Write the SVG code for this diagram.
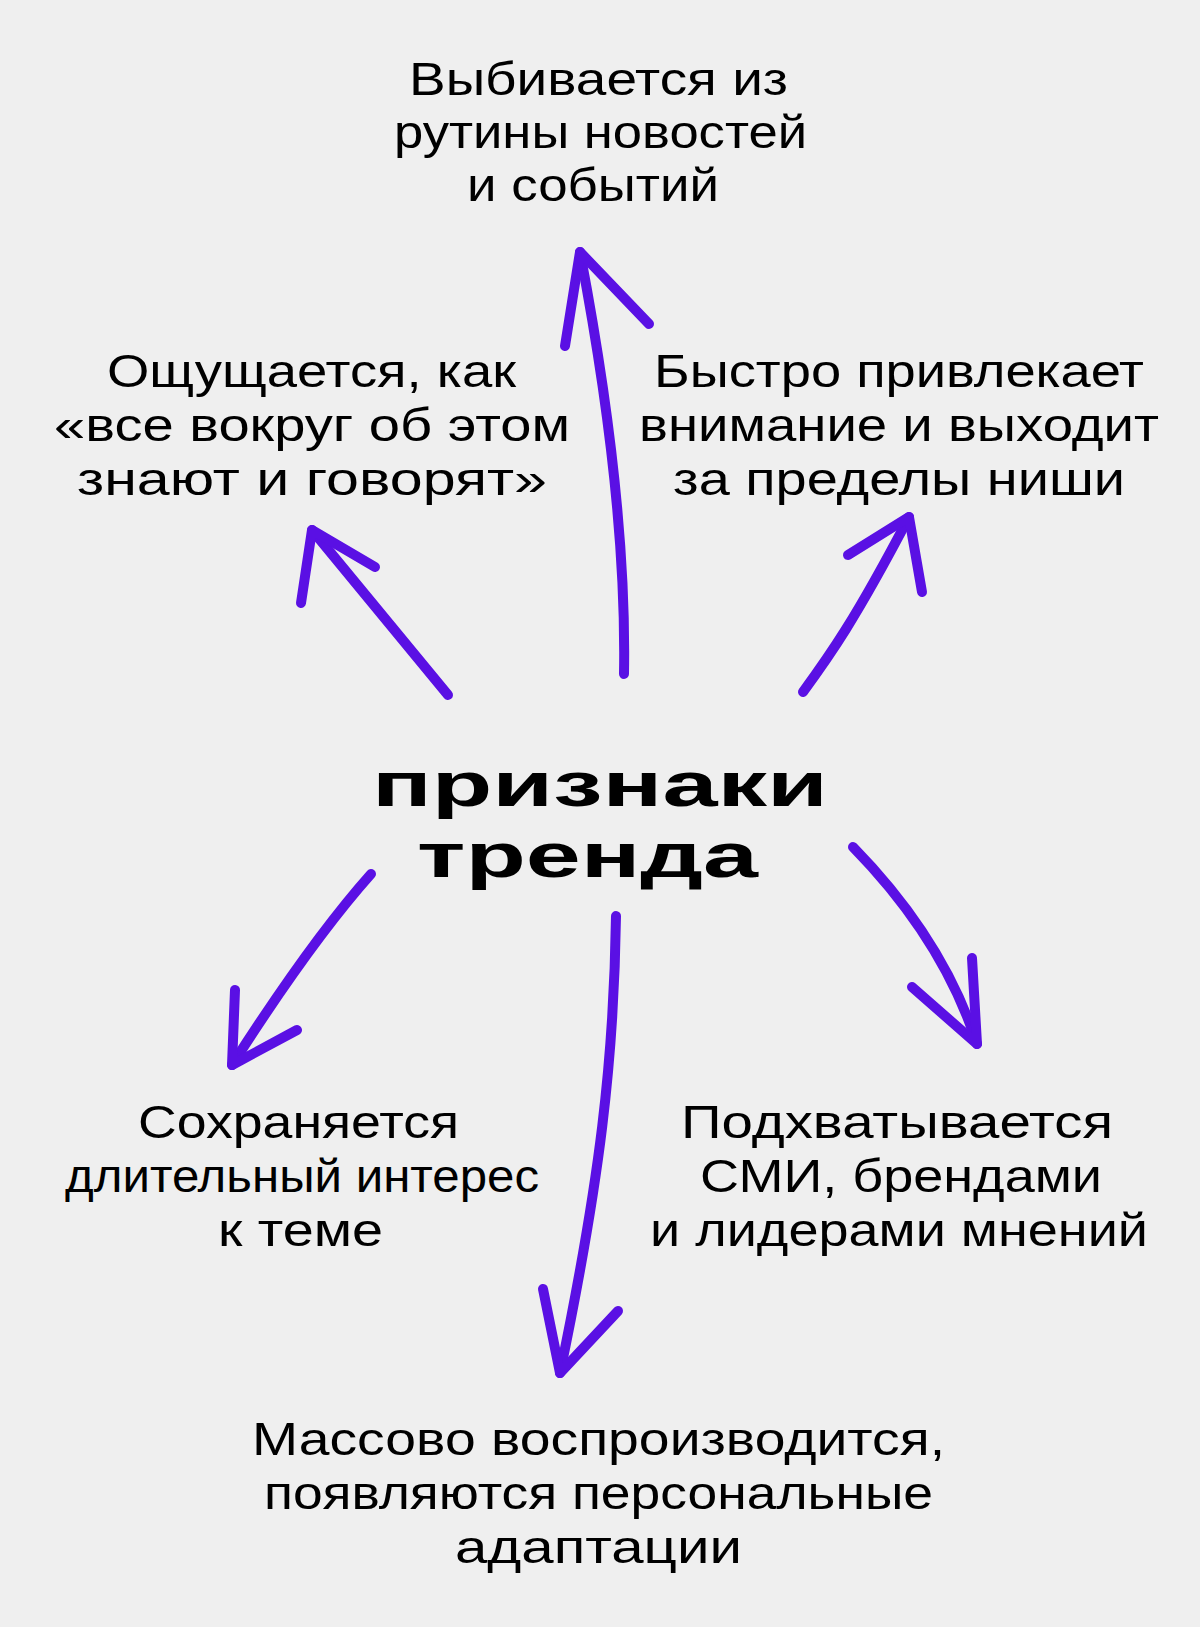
<svg xmlns="http://www.w3.org/2000/svg" width="1200" height="1627" viewBox="0 0 1200 1627">
<defs>
<style>
.hand{font-family:"Liberation Sans",Arial,sans-serif;font-size:46px;font-weight:400;fill:#000}
.title{font-family:"Liberation Sans",Arial,sans-serif;font-size:63px;font-weight:700;fill:#000}
.arr{fill:none;stroke:#5a10e4;stroke-width:10;stroke-linecap:round;stroke-linejoin:round}
</style>
</defs>
<rect x="0" y="0" width="1200" height="1627" fill="#efefef"/>
<g id="center">
<text class="title" x="372" y="806" textLength="456" lengthAdjust="spacingAndGlyphs">признаки</text>
<text class="title" x="417" y="877" textLength="341" lengthAdjust="spacingAndGlyphs">тренда</text>
</g>
<g id="node-top">
<text class="hand" x="409" y="95" textLength="379" lengthAdjust="spacingAndGlyphs">Выбивается из</text>
<text class="hand" x="394" y="148" textLength="413" lengthAdjust="spacingAndGlyphs">рутины новостей</text>
<text class="hand" x="467" y="201" textLength="252" lengthAdjust="spacingAndGlyphs">и событий</text>
</g>
<g id="node-left">
<text class="hand" x="107" y="387" textLength="409" lengthAdjust="spacingAndGlyphs">Ощущается, как</text>
<text class="hand" x="54" y="441" textLength="516" lengthAdjust="spacingAndGlyphs">«все вокруг об этом</text>
<text class="hand" x="77" y="495" textLength="470" lengthAdjust="spacingAndGlyphs">знают и говорят»</text>
</g>
<g id="node-right">
<text class="hand" x="654" y="387" textLength="490" lengthAdjust="spacingAndGlyphs">Быстро привлекает</text>
<text class="hand" x="639" y="441" textLength="520" lengthAdjust="spacingAndGlyphs">внимание и выходит</text>
<text class="hand" x="673" y="495" textLength="452" lengthAdjust="spacingAndGlyphs">за пределы ниши</text>
</g>
<g id="node-lower-left">
<text class="hand" x="138" y="1138" textLength="321" lengthAdjust="spacingAndGlyphs">Сохраняется</text>
<text class="hand" x="65" y="1192" textLength="474" lengthAdjust="spacingAndGlyphs">длительный интерес</text>
<text class="hand" x="218" y="1246" textLength="165" lengthAdjust="spacingAndGlyphs">к теме</text>
</g>
<g id="node-lower-right">
<text class="hand" x="681" y="1138" textLength="432" lengthAdjust="spacingAndGlyphs">Подхватывается</text>
<text class="hand" x="700" y="1192" textLength="402" lengthAdjust="spacingAndGlyphs">СМИ, брендами</text>
<text class="hand" x="650" y="1246" textLength="498" lengthAdjust="spacingAndGlyphs">и лидерами мнений</text>
</g>
<g id="node-bottom">
<text class="hand" x="252" y="1455" textLength="693" lengthAdjust="spacingAndGlyphs">Массово воспроизводится,</text>
<text class="hand" x="264" y="1509" textLength="669" lengthAdjust="spacingAndGlyphs">появляются персональные</text>
<text class="hand" x="455" y="1563" textLength="287" lengthAdjust="spacingAndGlyphs">адаптации</text>
</g>
<g id="connectors">
<path class="arr" d="M624,674 C626,560 612,420 580,252"/>
<path class="arr" d="M565,346 L580,252 L649,324"/>
<path class="arr" d="M448,695 L312,530"/>
<path class="arr" d="M301,603 L312,530 L375,567"/>
<path class="arr" d="M803,692 C830,655 855,620 909,517"/>
<path class="arr" d="M848,555 L909,517 L922,592"/>
<path class="arr" d="M371,874 C330,920 280,990 232,1065"/>
<path class="arr" d="M235,990 L232,1065 L297,1030"/>
<path class="arr" d="M616,916 C614,1060 600,1180 560,1373"/>
<path class="arr" d="M543,1289 L560,1373 L618,1311"/>
<path class="arr" d="M853,847 C900,895 950,960 977,1044"/>
<path class="arr" d="M972,958 L977,1044 L912,987"/>
</g>
</svg>
